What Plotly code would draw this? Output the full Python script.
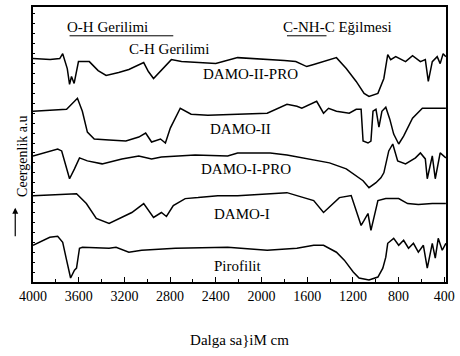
import plotly.graph_objects as go

# Wavenumbers (cm-1) and transmittance (a.u., stacked)
wn_damo2pro = [4000, 3850, 3766, 3740, 3700, 3680, 3663, 3640, 3602, 3507, 3430, 3360, 3250, 3161, 3031,
               2990, 2945, 2870, 2789, 2700, 2555, 2400, 2209, 2050, 1889, 1800, 1700, 1604, 1543, 1450,
               1344, 1258, 1171, 1102, 1059, 981, 929, 895, 869, 825, 739, 678, 609, 566, 540, 505,
               462, 436, 410, 386]
t_damo2pro = [225, 224, 225, 230, 215, 199, 207, 200, 222, 222, 213, 208, 211, 214, 221,
              212, 205, 214, 224, 222, 221, 220, 226, 225, 224, 223, 222, 217, 219, 222,
              226, 215, 202, 190, 187, 190, 205, 229, 224, 227, 222, 228, 222, 224, 202, 222,
              227, 220, 230, 227]

wn_damo2 = [4000, 3853, 3706, 3611, 3568, 3524, 3464, 3334, 3187, 3074, 3014, 2962, 2919, 2884, 2841,
            2798, 2711, 2616, 2469, 2209, 1950, 1777, 1690, 1647, 1578, 1517, 1457, 1413, 1344, 1232,
            1171, 1128, 1111, 1068, 1042, 1024, 998, 972, 946, 912, 877, 843, 799, 756, 678, 592,
            479, 386]
t_damo2 = [172, 173, 174, 185, 172, 151, 144, 143, 142, 146, 150, 141, 143, 144, 140,
           155, 175, 169, 168, 169, 170, 179, 177, 175, 179, 182, 170, 175, 172, 170,
           174, 174, 142, 140, 142, 172, 174, 156, 172, 176, 164, 149, 139, 147, 165, 175,
           175, 175]

wn_damo1pro = [4000, 3784, 3749, 3680, 3637, 3593, 3524, 3395, 3222, 3074, 2962, 2876, 2581, 2296, 2209,
               1924, 1777, 1630, 1405, 1258, 1111, 1059, 998, 955, 929, 886, 851, 808, 739, 652,
               609, 566, 549, 505, 479, 436, 386]
t_damo1pro = [127, 134, 132, 104, 114, 125, 122, 119, 124, 127, 124, 126, 128, 127, 130,
              130, 128, 125, 120, 114, 102, 95, 100, 105, 110, 132, 139, 122, 119, 125,
              130, 124, 104, 127, 104, 130, 125]

wn_damo1 = [4000, 3810, 3619, 3533, 3446, 3334, 3222, 3135, 3031, 2945, 2876, 2832, 2772, 2668, 2555,
            2382, 2209, 1950, 1777, 1690, 1543, 1457, 1370, 1318, 1215, 1154, 1128, 1102, 1068, 1042,
            1016, 981, 912, 799, 721, 627, 505, 410, 386]
t_damo1 = [87, 88, 89, 79, 64, 59, 65, 70, 79, 65, 70, 66, 77, 84, 85,
           87, 87, 89, 90, 87, 82, 70, 79, 85, 87, 65, 57, 62, 69, 52,
           65, 82, 84, 84, 79, 78, 79, 79, 79]

wn_piro = [4000, 3853, 3784, 3740, 3706, 3671, 3637, 3619, 3593, 3567, 3334, 3273, 3161, 3049, 2754,
           2296, 1950, 1690, 1543, 1457, 1344, 1275, 1197, 1146, 1059, 981, 938, 912, 895, 869,
           843, 799, 756, 713, 670, 627, 583, 549, 505, 479, 453, 418, 386]
t_piro = [37, 45, 46, 40, 22, 4, 12, 14, 34, 35, 34, 35, 30, 32, 34,
          35, 32, 34, 37, 37, 30, 22, 10, 4, 2, 5, 14, 25, 39, 42,
          44, 37, 42, 34, 39, 30, 37, 14, 39, 24, 44, 32, 39]

series = [
    ("DAMO-II-PRO", wn_damo2pro, t_damo2pro),
    ("DAMO-II", wn_damo2, t_damo2),
    ("DAMO-I-PRO", wn_damo1pro, t_damo1pro),
    ("DAMO-I", wn_damo1, t_damo1),
    ("Pirofilit", wn_piro, t_piro),
]
label_pos = {"DAMO-II-PRO": (2097, 210), "DAMO-II": (2184, 154), "DAMO-I-PRO": (2132, 114),
             "DAMO-I": (2175, 69), "Pirofilit": (2209, 16)}

tick_vals = [4000, 3600, 3200, 2800, 2400, 2000, 1600, 1200, 800, 400]
tick_text = ["4000", "3600", "3200", "2800", "2400", "2000", "1600", "1200", "800", "400"]

SERIF = "Liberation Serif"

fig = go.Figure()
for name, x, y in series:
    fig.add_trace(go.Scatter(x=x, y=y, mode="lines", name=name,
                             line=dict(color="black", width=1.5), showlegend=False))

for name, (lx, ly) in label_pos.items():
    fig.add_annotation(x=lx, y=ly, text=name, showarrow=False,
                       font=dict(family=SERIF, size=15, color="black"))

fig.add_annotation(x=3351, y=257, text="O-H Gerilimi", showarrow=False,
                   font=dict(family=SERIF, size=15, color="black"))
fig.add_annotation(x=2806, y=235, text="C-H Gerilimi", showarrow=False,
                   font=dict(family=SERIF, size=15, color="black"))
fig.add_annotation(x=1336, y=257, text="C-NH-C Eğilmesi", showarrow=False,
                   font=dict(family=SERIF, size=15, color="black"))
fig.add_shape(type="line", x0=3680, x1=2772, y0=248, y1=248, line=dict(color="black", width=1))
fig.add_shape(type="line", x0=1777, x1=1431, y0=248, y1=248, line=dict(color="black", width=1))

# y-axis title and arrow
fig.add_annotation(xref="paper", yref="paper", x=-0.05, y=0.458, text="Ceergenlik a.u",
                   textangle=-90, showarrow=False, font=dict(family=SERIF, size=14, color="black"))
fig.add_annotation(xref="paper", yref="paper", x=-0.043, y=0.27, ax=0, ay=30, text="",
                   showarrow=True, arrowhead=2, arrowsize=1, arrowwidth=1.2, arrowcolor="black")

fig.update_xaxes(range=[4000, 385], tickvals=tick_vals, ticktext=tick_text,
                 ticks="inside", ticklen=5, tickcolor="black", tickwidth=1,
                 minor=dict(ticks="inside", ticklen=3, dtick=200, tickcolor="black"),
                 showline=True, linecolor="black", linewidth=1.5, mirror=True,
                 showgrid=False, zeroline=False,
                 tickfont=dict(family=SERIF, size=14, color="black"),
                 title=dict(text="Dalga sa}iM cm", font=dict(family=SERIF, size=15, color="black"),
                            standoff=32))
fig.update_yaxes(range=[0, 277], showticklabels=False, ticks="inside", ticklen=2, dtick=10,
                 tickcolor="black", showline=True, linecolor="black", linewidth=1.5, mirror=True,
                 showgrid=False, zeroline=False)

fig.update_layout(width=460, height=356, margin=dict(l=33, r=10, t=5, b=74),
                  plot_bgcolor="white", paper_bgcolor="white")

fig.write_html("out.html")
